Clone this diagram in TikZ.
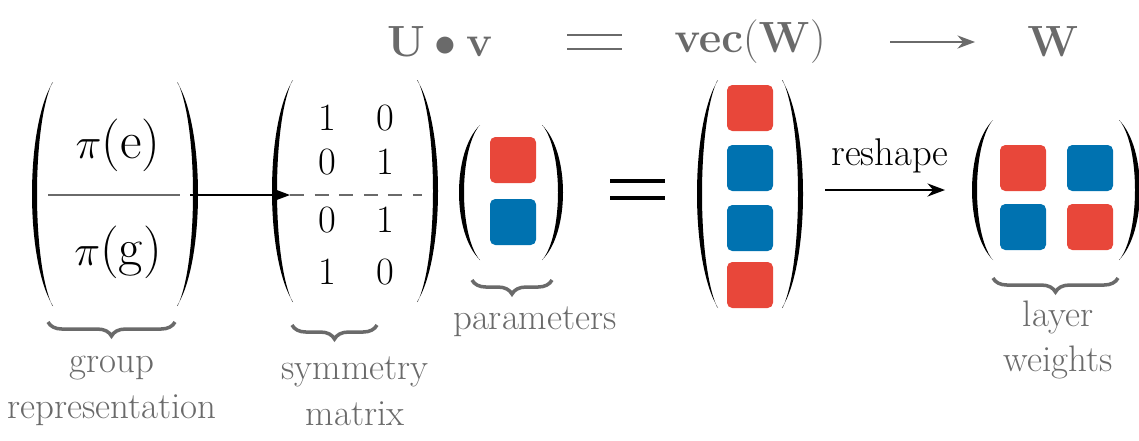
\documentclass[tikz,border=0pt]{standalone}
\usetikzlibrary{positioning,decorations.pathreplacing,arrows.meta}
\definecolor{wred}{HTML}{E8473A}
\definecolor{wblue}{HTML}{0072B0}
\definecolor{wgray}{HTML}{6A6A6A}
\newcommand\lpar[3]{\fill ({#1+18},#2) .. controls ({#1-10},{#2+0.2*(#3-#2)}) and ({#1-10},{#3-0.2*(#3-#2)}) .. ({#1+18},#3) -- ({#1+17},{#3-1}) .. controls ({#1-3},{#3-0.2*(#3-#2)}) and ({#1-3},{#2+0.2*(#3-#2)}) .. ({#1+17},{#2+1}) -- cycle;}
\newcommand\rpar[3]{\fill ({#1-18},#2) .. controls ({#1+10},{#2+0.2*(#3-#2)}) and ({#1+10},{#3-0.2*(#3-#2)}) .. ({#1-18},#3) -- ({#1-17},{#3-1}) .. controls ({#1+3},{#3-0.2*(#3-#2)}) and ({#1+3},{#2+0.2*(#3-#2)}) .. ({#1-17},{#2+1}) -- cycle;}
\begin{document}
\begin{tikzpicture}[x=0.02cm,y=-0.02cm,
			redsq/.style={rectangle, fill=wred, rounded corners=3pt, minimum size=0.92cm},
			bluesq/.style={rectangle, fill=wblue, rounded corners=3pt, minimum size=0.92cm},
			toptext/.style={text=wgray, font=\fontsize{27}{32}\selectfont},
			entry/.style={font=\fontsize{22}{26}\selectfont},
			label/.style={text=wgray, align=center, font=\fontsize{21}{26}\selectfont},
			brace/.style={draw=wgray, line width=2pt, decorate, decoration={brace, mirror, amplitude=8pt}},
			]
			\useasboundingbox (0,0) rectangle (1139,440);
			%Top row
			\node[toptext] (uv)  at (440,42)  {$\mathbf{U}\bullet\mathbf{v}$};
			\draw[wgray, line width=1.6pt] (567,35) -- (622,35) (567,49) -- (622,49);
			\node[toptext] (vec) at (750,42)  {$\mathbf{vec(W)}$};
			\node[toptext] (w)   at (1053,42) {$\mathbf{W}$};
			\draw[wgray, thick, -{Stealth[length=10pt]}] (890,42) coordinate (a0) -- (975,42) coordinate (a1);

			%Group representation
			\lpar{35}{82}{306} \rpar{195}{82}{306}
			\node[font=\fontsize{30}{34}\selectfont] (pie) at (118,145) {$\pi$(e)};
			\node[font=\fontsize{30}{34}\selectfont] (pig) at (118,252) {$\pi$(g)};
			\draw[wgray, thick] (48,195) -- (180,195);
			\coordinate (gright) at (190,195);
			\draw[brace] (48,322) -- (175,322);
			\node[label] (grouplbl) at (112,391) {group\\representation};

			%Symmetry matrix
			\lpar{275}{80}{302} \rpar{435}{80}{302}
			\node[entry] (s11) at (327,118) {1}; \node[entry] (s12) at (385,118) {0};
			\node[entry] (s21) at (327,162) {0}; \node[entry] (s22) at (385,162) {1};
			\node[entry] (s31) at (327,220) {0}; \node[entry] (s32) at (385,220) {1};
			\node[entry] (s41) at (327,272) {1}; \node[entry] (s42) at (385,272) {0};
			\draw[wgray, thick, dash pattern=on 8pt off 6pt] (290,195) coordinate (sleft) -- (422,195);
			\draw[-{Stealth[length=10pt]}, thick] (gright) -- (sleft);
			\draw[brace] (292,325) -- (377,325);
			\node[label] (symlbl) at (355,391) {symmetry\\matrix};

			%Parameters
			\lpar{462}{125}{260} \rpar{560}{125}{260}
			\node[redsq]  (p1) at (513,160) {};
			\node[bluesq] (p2) at (513,222) {};
			\draw[brace] (472,280) -- (552,280);
			\node[label] (parlbl) at (535,322) {parameters};

			\draw[line width=2.5pt] (610,181) -- (665,181) (610,198) -- (665,198);

			%Vector
			\lpar{700}{80}{308} \rpar{800}{80}{308}
			\node[redsq]  (v1) at (750,108) {};
			\node[bluesq] (v2) at (750,168) {};
			\node[bluesq] (v3) at (750,228) {};
			\node[redsq]  (v4) at (750,285) {};

			\node[font=\fontsize{22}{26}\selectfont] (resh) at (890,156) {reshape};
			\draw[-{Stealth[length=10pt]}, thick] (825,190) coordinate (r0) -- (945,190) coordinate (r1);

			%Layer weights
			\lpar{975}{120}{260} \rpar{1137}{120}{260}
			\node[redsq]  (w11) at (1023,168) {};
			\node[bluesq] (w12) at (1090,168) {};
			\node[bluesq] (w21) at (1023,227) {};
			\node[redsq]  (w22) at (1090,227) {};
			\draw[brace] (993,278) -- (1118,278);
			\node[label] (wlbl) at (1058,340) {layer\\weights};
		\end{tikzpicture}
\end{document}
